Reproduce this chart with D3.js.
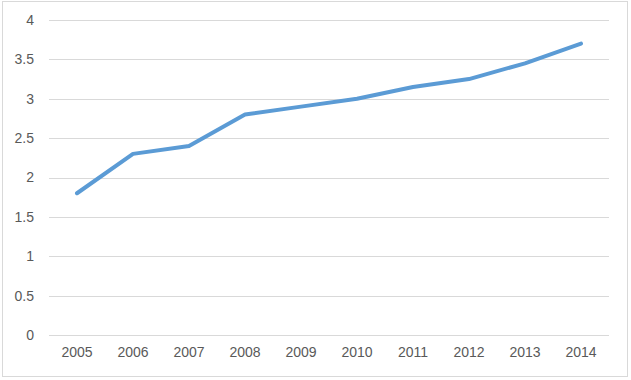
<!DOCTYPE html>
<html>
<head>
<meta charset="utf-8">
<script src="https://cdn.jsdelivr.net/npm/d3@7"></script>
<style>
  body { margin: 0; background: #fff; }
  text { font-family: "Liberation Sans", Arial, sans-serif; }
</style>
</head>
<body>
<div id="chart"></div>
<script>
const years = ['2005', '2006', '2007', '2008', '2009', '2010', '2011', '2012', '2013', '2014'];
const values = [1.8, 2.3, 2.4, 2.8, 2.9, 3.0, 3.15, 3.25, 3.45, 3.7];
const yTicks = [0, 0.5, 1, 1.5, 2, 2.5, 3, 3.5, 4];

const W = 631, H = 380;
const plotLeft = 49, plotRight = 609, plotTop = 20, plotBottom = 335;

const svg = d3.select('#chart').append('svg')
  .attr('width', W)
  .attr('height', H);

// outer frame
svg.append('rect')
  .attr('x', 2.5).attr('y', 1.5)
  .attr('width', 625).attr('height', 375)
  .attr('fill', '#fff')
  .attr('stroke', '#d9d9d9');

const x = d3.scaleBand().domain(years).range([plotLeft, plotRight]);
const y = d3.scaleLinear().domain([0, 4]).range([plotBottom, plotTop]);

// gridlines + y labels
const yAxis = svg.append('g')
  .attr('transform', `translate(${plotLeft},0)`)
  .call(d3.axisLeft(y).tickValues(yTicks).tickSize(-(plotRight - plotLeft)).tickPadding(15).tickFormat(d => d));
yAxis.select('.domain').remove();
yAxis.selectAll('line').attr('stroke', '#d9d9d9').attr('shape-rendering', 'crispEdges');
yAxis.selectAll('text').attr('fill', '#595959').style('font-size', '14px');

// x labels
const xAxis = svg.append('g')
  .attr('transform', `translate(0,${plotBottom})`)
  .call(d3.axisBottom(x).tickSize(0).tickPadding(12));
xAxis.select('.domain').remove();
xAxis.selectAll('text').attr('fill', '#595959').style('font-size', '14px');

const line = d3.line()
  .x((d, i) => x(years[i]) + x.bandwidth() / 2)
  .y(d => y(d));

svg.append('path')
  .datum(values)
  .attr('d', line)
  .attr('fill', 'none')
  .attr('stroke', '#5b9bd5')
  .attr('stroke-width', 4)
  .attr('stroke-linejoin', 'round')
  .attr('stroke-linecap', 'round');
</script>
</body>
</html>
